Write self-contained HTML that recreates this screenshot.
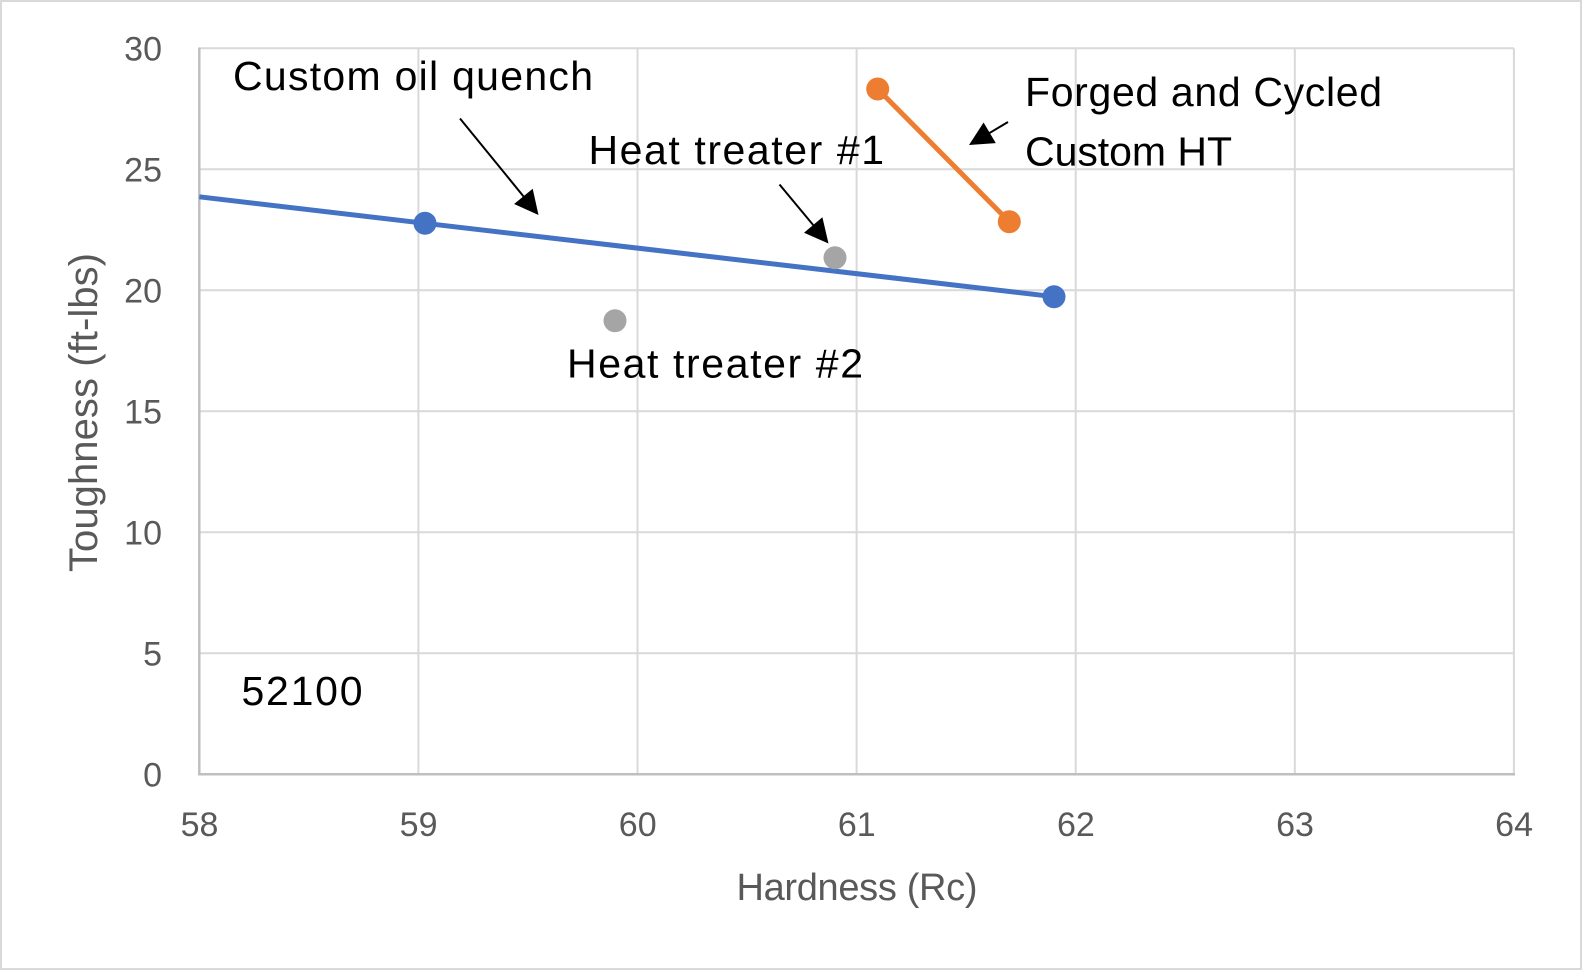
<!DOCTYPE html>
<html>
<head>
<meta charset="utf-8">
<style>
  html, body { margin:0; padding:0; background:#ffffff; }
  body { width:1585px; height:971px; overflow:hidden; }
  svg { display:block; }
  text { font-family: "Liberation Sans", Arial, sans-serif; }
</style>
</head>
<body>
<svg width="1585" height="971" viewBox="0 0 1585 971" xmlns="http://www.w3.org/2000/svg">
  <rect x="0" y="0" width="1585" height="971" fill="#ffffff"/>
  <rect x="1" y="1" width="1580" height="968" fill="#ffffff" stroke="#d9d9d9" stroke-width="2"/>

  <!-- horizontal gridlines -->
  <g stroke="#d9d9d9" stroke-width="2">
    <line x1="199.3" y1="653.3" x2="1513.9" y2="653.3"/>
    <line x1="199.3" y1="532.3" x2="1513.9" y2="532.3"/>
    <line x1="199.3" y1="411.3" x2="1513.9" y2="411.3"/>
    <line x1="199.3" y1="290.3" x2="1513.9" y2="290.3"/>
    <line x1="199.3" y1="169.3" x2="1513.9" y2="169.3"/>
    <line x1="199.3" y1="48.3" x2="1513.9" y2="48.3"/>
    <!-- vertical gridlines -->
    <line x1="418.4" y1="48.3" x2="418.4" y2="774.3"/>
    <line x1="637.5" y1="48.3" x2="637.5" y2="774.3"/>
    <line x1="856.6" y1="48.3" x2="856.6" y2="774.3"/>
    <line x1="1075.7" y1="48.3" x2="1075.7" y2="774.3"/>
    <line x1="1294.8" y1="48.3" x2="1294.8" y2="774.3"/>
    <line x1="1513.9" y1="48.3" x2="1513.9" y2="774.3"/>
  </g>
  <!-- axes -->
  <g stroke="#bfbfbf" stroke-width="2.5">
    <line x1="199.3" y1="47.5" x2="199.3" y2="775.5"/>
    <line x1="198" y1="774.3" x2="1515" y2="774.3"/>
  </g>

  <!-- y tick labels -->
  <g fill="#595959" font-size="34" text-anchor="end">
    <text x="162" y="786.5">0</text>
    <text x="162" y="665.5">5</text>
    <text x="162" y="544.5">10</text>
    <text x="162" y="423.5">15</text>
    <text x="162" y="302.5">20</text>
    <text x="162" y="181.5">25</text>
    <text x="162" y="60.5">30</text>
  </g>
  <!-- x tick labels -->
  <g fill="#595959" font-size="34" text-anchor="middle">
    <text x="199.5" y="836">58</text>
    <text x="418.6" y="836">59</text>
    <text x="637.7" y="836">60</text>
    <text x="856.8" y="836">61</text>
    <text x="1075.9" y="836">62</text>
    <text x="1295" y="836">63</text>
    <text x="1514.1" y="836">64</text>
  </g>

  <!-- axis titles -->
  <text x="857" y="900" fill="#595959" font-size="38" text-anchor="middle" textLength="241">Hardness (Rc)</text>
  <text transform="translate(97,412.5) rotate(-90)" x="0" y="0" fill="#595959" font-size="40" text-anchor="middle" textLength="319">Toughness (ft-lbs)</text>

  <!-- blue series -->
  <polyline points="199.3,196.8 425,223.3 1054,296.7" fill="none" stroke="#4472c4" stroke-width="5" stroke-linejoin="round"/>
  <circle cx="425" cy="223.3" r="11.5" fill="#4472c4"/>
  <circle cx="1054" cy="296.7" r="11.5" fill="#4472c4"/>

  <!-- orange series -->
  <line x1="877.7" y1="89" x2="1009.3" y2="221.7" stroke="#ed7d31" stroke-width="5"/>
  <circle cx="877.7" cy="89" r="11.5" fill="#ed7d31"/>
  <circle cx="1009.3" cy="221.7" r="11.5" fill="#ed7d31"/>

  <!-- gray points -->
  <circle cx="835" cy="257.7" r="11.5" fill="#a5a5a5"/>
  <circle cx="615" cy="320.7" r="11.5" fill="#a5a5a5"/>

  <!-- arrows -->
  <g stroke="#000" stroke-width="2" fill="none">
    <line x1="460" y1="118.5" x2="524" y2="197"/>
    <line x1="779.5" y1="184.5" x2="814" y2="226"/>
    <line x1="1008" y1="122" x2="989" y2="133.3"/>
  </g>
  <g fill="#000">
    <polygon points="538.5,215 514.1,204.0 532.7,188.8"/>
    <polygon points="828.5,243.5 804.0,232.7 822.4,217.3"/>
    <polygon points="969,145 983.6,122.5 995.8,143.1"/>
  </g>

  <!-- annotations -->
  <g fill="#000" font-size="41">
    <text x="233" y="90" textLength="360">Custom oil quench</text>
    <text x="588.5" y="164" textLength="295.5">Heat treater #1</text>
    <text x="567" y="377.5" textLength="296">Heat treater #2</text>
    <text x="1025" y="106" textLength="357">Forged and Cycled</text>
    <text x="1025" y="165.5" textLength="207">Custom HT</text>
    <text x="241.5" y="705" textLength="121">52100</text>
  </g>
</svg>
</body>
</html>
